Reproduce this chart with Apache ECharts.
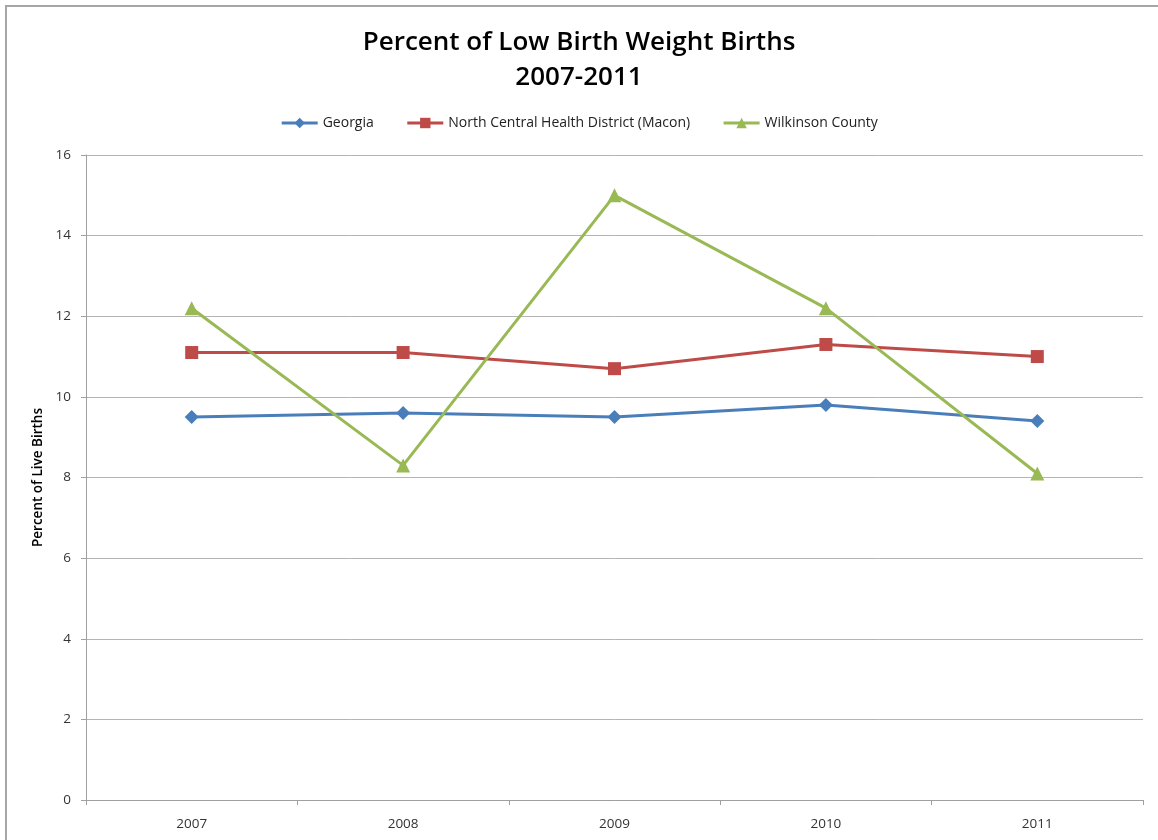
<!DOCTYPE html>
<html>
<head>
<meta charset="utf-8">
<script src="https://cdn.jsdelivr.net/npm/echarts@6/dist/echarts.min.js"></script>
<style>
html,body{margin:0;padding:0;background:#fff;overflow:hidden;}
#frame{position:absolute;left:5px;top:5px;width:1200px;height:900px;border-left:2px solid #a6a6a6;border-top:2px solid #a6a6a6;}
#chart{position:absolute;left:0;top:0;width:1158px;height:840px;}
</style>
</head>
<body>
<div id="frame"></div>
<div id="chart"></div>
<script>
var categories = ['2007', '2008', '2009', '2010', '2011'];
var georgia = [9.5, 9.6, 9.5, 9.8, 9.4];
var northCentral = [11.1, 11.1, 10.7, 11.3, 11.0];
var wilkinson = [12.2, 8.3, 15.0, 12.2, 8.1];
var seriesNames = ['Georgia', 'North Central Health District (Macon)', 'Wilkinson County'];
var yTicks = [0, 2, 4, 6, 8, 10, 12, 14, 16];

var font = '"Open Sans", "Liberation Sans", sans-serif';
var chart = echarts.init(document.getElementById('chart'), null, {renderer: 'canvas'});
chart.setOption({
  animation: false,
  backgroundColor: 'transparent',
  title: {
    text: 'Percent of Low Birth Weight Births\n2007-2011',
    left: 'center',
    top: 20,
    textStyle: {fontFamily: font, fontSize: 26, fontWeight: 600, color: '#000', lineHeight: 35}
  },
  legend: {
    top: 111,
    left: 'center',
    itemGap: 32,
    itemWidth: 36,
    itemHeight: 13,
    lineStyle: {width: 3},
    textStyle: {fontFamily: font, fontSize: 14, color: '#222'},
    data: seriesNames
  },
  grid: {left: 86, right: 15, top: 155, bottom: 40, containLabel: false},
  xAxis: {
    type: 'category',
    data: categories,
    boundaryGap: true,
    axisLine: {lineStyle: {color: '#a0a0a0', width: 1}},
    axisTick: {show: true, length: 5, lineStyle: {color: '#a0a0a0'}},
    axisLabel: {fontFamily: font, fontSize: 13.5, color: '#333', margin: 17}
  },
  yAxis: {
    type: 'value',
    min: yTicks[0],
    max: yTicks[yTicks.length - 1],
    interval: 2,
    name: 'Percent of Live Births',
    nameLocation: 'middle',
    nameGap: 40,
    nameRotate: 90,
    nameTextStyle: {fontFamily: font, fontSize: 13.5, fontWeight: 600, color: '#000'},
    axisLine: {show: true, lineStyle: {color: '#a0a0a0', width: 1}},
    axisTick: {show: true, length: 5, lineStyle: {color: '#a0a0a0'}},
    axisLabel: {fontFamily: font, fontSize: 13.5, color: '#333', margin: 15},
    splitLine: {lineStyle: {color: '#b4b4b4', width: 1}}
  },
  series: [
    {
      name: seriesNames[0], type: 'line', data: georgia,
      symbol: 'diamond', symbolSize: 14,
      lineStyle: {color: '#4A7EBB', width: 3},
      itemStyle: {color: '#4A7EBB'}
    },
    {
      name: seriesNames[1], type: 'line', data: northCentral,
      symbol: 'rect', symbolSize: 13,
      lineStyle: {color: '#BE4B48', width: 3},
      itemStyle: {color: '#BE4B48'}
    },
    {
      name: seriesNames[2], type: 'line', data: wilkinson,
      symbol: 'triangle', symbolSize: 14,
      lineStyle: {color: '#98B954', width: 3},
      itemStyle: {color: '#98B954'}
    }
  ]
});
</script>
</body>
</html>
